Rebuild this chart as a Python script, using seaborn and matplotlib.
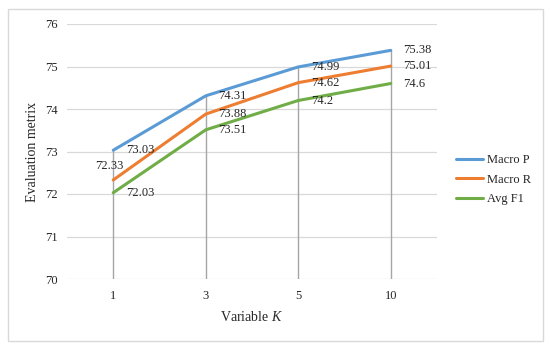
import matplotlib
matplotlib.use("Agg")
import matplotlib.pyplot as plt
import seaborn as sns
import pandas as pd
from matplotlib.patches import Rectangle

k_values = ["1", "3", "5", "10"]
macro_p = [73.03, 74.31, 74.99, 75.38]
macro_r = [72.33, 73.88, 74.62, 75.01]
avg_f1 = [72.03, 73.51, 74.2, 74.6]
series_names = ["Macro P", "Macro R", "Avg F1"]
y_ticks = [70, 71, 72, 73, 74, 75, 76]

colors = ["#5B9BD5", "#ED7D31", "#70AD47"]

sns.set_theme(style="white")
plt.rcParams["font.family"] = ["Liberation Serif", "DejaVu Serif"]
plt.rcParams["mathtext.fontset"] = "custom"
plt.rcParams["mathtext.it"] = "Liberation Serif:italic"
plt.rcParams["mathtext.rm"] = "Liberation Serif"

rows = []
for name, vals in zip(series_names, [macro_p, macro_r, avg_f1]):
    for k, v in zip(k_values, vals):
        rows.append({"K": k, "value": v, "series": name})
df = pd.DataFrame(rows)

fig = plt.figure(figsize=(5.5, 3.5), dpi=100)
fig.patches.append(Rectangle((8 / 550, 9 / 350), 535 / 550, 332 / 350,
                             transform=fig.transFigure, fill=False,
                             edgecolor="#D9D9D9", linewidth=1.0))
ax = fig.add_axes([67 / 550, 1 - 279 / 350, 370 / 550, 255 / 350])

# gridlines
for y in y_ticks:
    ax.axhline(y, color="#D9D9D9", lw=0.9, zorder=0)

# drop lines
ax.vlines(range(len(k_values)), 70, macro_p, color="#A6A6A6", lw=1.0, zorder=1)

sns.lineplot(data=df, x="K", y="value", hue="series", palette=colors,
             linewidth=2.2, ax=ax, legend=True, zorder=3, sort=False)

ax.set_xlim(-0.5, 3.5)
ax.set_ylim(70, 76)
ax.set_yticks(y_ticks)
ax.set_yticklabels([str(t) for t in y_ticks], fontsize=9)
ax.tick_params(axis="x", labelsize=9, length=0, pad=8)
ax.tick_params(axis="y", length=0, pad=7)
for s in ax.spines.values():
    s.set_visible(False)

ax.set_ylabel("Evaluation metrix", fontsize=10, labelpad=4)
ax.set_xlabel("Variable $\\mathit{K}$", fontsize=10, labelpad=6)

# data labels
for name, vals in zip(series_names, [macro_p, macro_r, avg_f1]):
    for i, v in enumerate(vals):
        if name == "Macro R" and i == 0:
            ax.annotate(f"{v:g}", (i, v), xytext=(-3, 10), textcoords="offset points",
                        ha="center", va="center", fontsize=9)
        else:
            ax.annotate(f"{v:g}", (i, v), xytext=(9, 0), textcoords="offset points",
                        ha="left", va="center", fontsize=9)

leg = ax.legend(loc="center left", bbox_to_anchor=(1.02, 0.39), frameon=False,
                fontsize=9, handlelength=2.2, handletextpad=0.3, labelspacing=0.6)
for line in leg.get_lines():
    line.set_linewidth(2.2)

fig.savefig("out.png", dpi=100)
